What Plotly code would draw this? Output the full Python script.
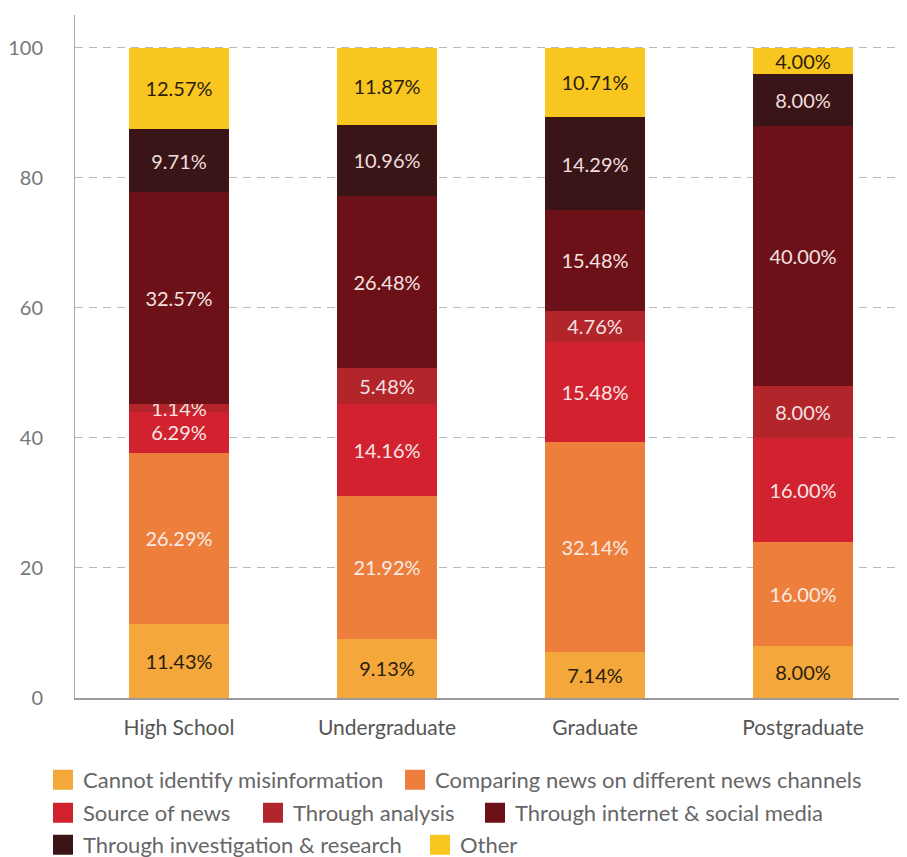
import plotly.graph_objects as go

categories = ["High School", "Undergraduate", "Graduate", "Postgraduate"]

series_names = [
    "Cannot identify misinformation",
    "Comparing news on different news channels",
    "Source of news",
    "Through analysis",
    "Through internet & social media",
    "Through investigation & research",
    "Other",
]

cannot_identify = [11.43, 9.13, 7.14, 8.00]
comparing_news = [26.29, 21.92, 32.14, 16.00]
source_of_news = [6.29, 14.16, 15.48, 16.00]
through_analysis = [1.14, 5.48, 4.76, 8.00]
internet_social = [32.57, 26.48, 15.48, 40.00]
investigation = [9.71, 10.96, 14.29, 8.00]
other = [12.57, 11.87, 10.71, 4.00]

series_values = [cannot_identify, comparing_news, source_of_news, through_analysis,
                 internet_social, investigation, other]

colors = ["#F4A73A", "#EE7E3B", "#D2222F", "#B1252B", "#6C1117", "#3A1517", "#F8C61E"]
text_colors = ["#2b1e10", "#f7ece6", "#f7e6e6", "#f5e2e2", "#f5e2e2", "#f0dede", "#2b1e10"]

y_ticks = [0, 20, 40, 60, 80, 100]

FONT = "Lato, 'Open Sans', sans-serif"

# The page body adds an 8px margin, so the figure is drawn 8px smaller and
# all intended page pixel positions are shifted by that offset.
OFF = 8
W, H = 907 - OFF, 857 - OFF
PLOT_L, PLOT_T, PLOT_B = 75 - OFF, 15 - OFF, 698 - OFF
plot_w = W - PLOT_L
plot_h = PLOT_B - PLOT_T
# legend entry placement (page pixel positions of entry text start and row centre)
legend_pos = [(83, 780), (435, 780), (83, 813), (293, 813), (515, 813), (83, 845), (460, 845)]
TEXT_GAP = 40

fig = go.Figure()
for name, vals, col, tcol in zip(series_names, series_values, colors, text_colors):
    fig.add_trace(go.Bar(
        x=categories,
        y=vals,
        name=name,
        showlegend=False,
        marker=dict(color=col, line=dict(width=0)),
        text=[f"{v:.2f}%" for v in vals],
        textposition="inside",
        insidetextanchor="middle",
        textangle=0,
        constraintext="none",
        textfont=dict(color=tcol, size=20, family=FONT),
        hoverinfo="skip",
    ))

legend_layouts = {}
for i, (name, col) in enumerate(zip(series_names, colors)):
    lid = "legend" if i == 0 else f"legend{i + 1}"
    fig.add_trace(go.Scatter(
        x=[None], y=[None], mode="markers", name=name, legend=lid, showlegend=True,
        marker=dict(symbol="square", size=16, color=col, line=dict(color=col, width=4)),
        hoverinfo="skip",
    ))
    tx, ty = legend_pos[i]
    legend_layouts[lid] = dict(
        orientation="h",
        x=(tx - OFF - TEXT_GAP - PLOT_L) / plot_w,
        xanchor="left",
        y=(PLOT_B - (ty - OFF)) / plot_h,
        yanchor="middle",
        font=dict(size=22, color="#666666", family=FONT),
        itemsizing="trace",
        bgcolor="rgba(0,0,0,0)",
        borderwidth=0,
    )

fig.update_layout(
    barmode="stack",
    bargap=0.52,
    width=W,
    height=H,
    margin=dict(l=PLOT_L, r=0, t=PLOT_T, b=H - PLOT_B, autoexpand=False),
    paper_bgcolor="white",
    plot_bgcolor="white",
    font=dict(family=FONT, color="#555555", size=20),
    uniformtext=dict(minsize=20, mode="show"),
    showlegend=True,
    xaxis=dict(
        showgrid=False,
        showline=True,
        linecolor="#9a9a9a",
        linewidth=2,
        ticks="",
        tickfont=dict(size=21, color="#555555"),
        ticklabelstandoff=10,
    ),
    yaxis=dict(
        range=[0, 105],
        tickvals=y_ticks,
        showgrid=True,
        gridcolor="#b8b8b8",
        griddash="8px,6px",
        gridwidth=1,
        showline=True,
        linecolor="#aaaaaa",
        linewidth=1,
        zeroline=False,
        ticks="",
        tickfont=dict(size=20, color="#777777"),
        ticklabelstandoff=27,
    ),
    **legend_layouts,
)

fig.write_html("out.html")
